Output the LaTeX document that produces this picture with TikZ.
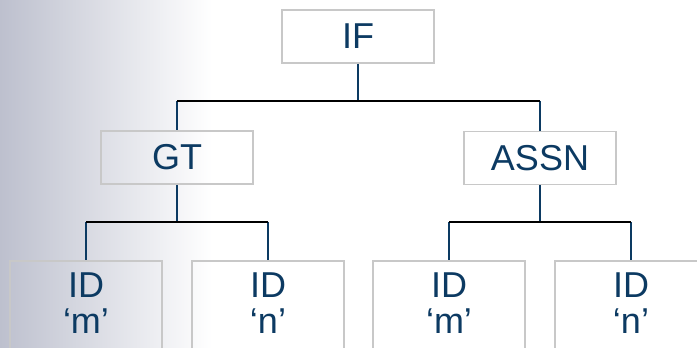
\documentclass[tikz,border=0pt]{standalone}
\usepackage{fontspec}
\setmainfont{Liberation Sans}
\usetikzlibrary{positioning}
\definecolor{navy}{RGB}{12,58,98}
\definecolor{boxgray}{RGB}{200,200,200}
\definecolor{fadegray}{RGB}{189,192,206}
\definecolor{fademid}{RGB}{229,230,235}

\begin{document}
\begin{tikzpicture}[x=1pt,y=-1pt,
  box/.style={draw=boxgray,line width=1.5pt,minimum width=152pt,minimum height=53pt,
    inner sep=0pt,text=navy,font=\fontsize{36}{36}\selectfont},
  leaf/.style={box,anchor=north,align=center,inner ysep=12pt,text depth=90pt},
  stem/.style={draw=navy,line width=1.5pt},
  bar/.style={draw=black,line width=2pt}]
\useasboundingbox (0,0) rectangle (697,348);
\clip (0,0) rectangle (697,348);
\shade[left color=fadegray,middle color=fademid,right color=white] (0,0) rectangle (212,348);

% tree nodes
\node[box] (if) at (358,36.5) {IF};
\node[box] (gt) at (177,157.5) {GT};
\node[box] (assn) at (540,158) {ASSN};
\node[leaf] (gtm) at (86,260) {ID\\‘m’};
\node[leaf] (gtn) at (268,260) {ID\\‘n’};
\node[leaf] (asm) at (449,260) {ID\\‘m’};
\node[leaf] (asn) at (631,260) {ID\\‘n’};

% IF -> GT, ASSN
\draw[stem] (if.south) -- ++(0,37) coordinate (ifbar);
\draw[stem] (gt.north |- ifbar) -- (gt.north);
\draw[stem] (assn.north |- ifbar) -- (assn.north);
\draw[bar] (gt.north |- ifbar) -- (assn.north |- ifbar);

% GT -> ID, ID
\draw[stem] (gt.south) -- ++(0,37) coordinate (gtbar);
\draw[stem] (gtm.north |- gtbar) -- (gtm.north);
\draw[stem] (gtn.north |- gtbar) -- (gtn.north);
\draw[bar] (gtm.north |- gtbar) -- (gtn.north |- gtbar);

% ASSN -> ID, ID
\draw[stem] (assn.south) -- ++(0,37) coordinate (asbar);
\draw[stem] (asm.north |- asbar) -- (asm.north);
\draw[stem] (asn.north |- asbar) -- (asn.north);
\draw[bar] (asm.north |- asbar) -- (asn.north |- asbar);
\end{tikzpicture}
\end{document}
